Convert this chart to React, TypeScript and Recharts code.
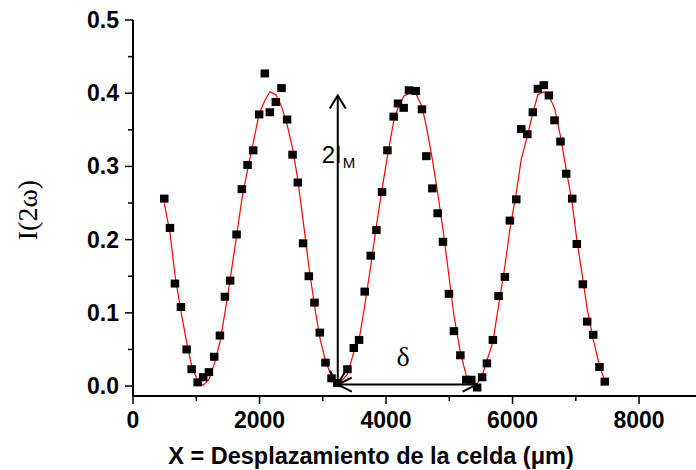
import React from 'react';
import { ComposedChart, XAxis, YAxis, Scatter, Line, ReferenceLine } from 'recharts';

// Measured points: displacement (µm) and I(2ω)
const xValues = [
  494, 584, 663, 758, 848, 927, 1022, 1110, 1200, 1284, 1374, 1453, 1536, 1637, 1721, 1811, 1900, 1994, 2084, 2163,
  2258, 2348, 2436, 2522, 2605, 2689, 2779, 2869, 2953, 3043, 3138, 3230, 3390, 3490, 3574, 3663, 3758, 3848, 3937, 4022,
  4121, 4189, 4279, 4363, 4469, 4568, 4637, 4732, 4816, 4900, 4995, 5074, 5175, 5269, 5348, 5440, 5519, 5595, 5689, 5779,
  5879, 5958, 6059, 6138, 6233, 6321, 6400, 6495, 6574, 6664, 6758, 6848, 6943, 7016, 7111, 7180, 7275, 7374, 7458,
];
const yValues = [
  0.256, 0.216, 0.140, 0.108, 0.050, 0.023, 0.005, 0.012, 0.019, 0.040, 0.069, 0.122, 0.144, 0.207, 0.269, 0.302, 0.322, 0.371, 0.427, 0.374,
  0.388, 0.407, 0.364, 0.316, 0.278, 0.195, 0.150, 0.114, 0.073, 0.032, 0.0105, 0.004, 0.023, 0.052, 0.063, 0.129, 0.178, 0.213, 0.265, 0.322,
  0.368, 0.386, 0.380, 0.404, 0.403, 0.378, 0.314, 0.270, 0.236, 0.197, 0.126, 0.075, 0.042, 0.0086, 0.0086, -0.002, 0.012, 0.031, 0.063, 0.123,
  0.149, 0.226, 0.255, 0.351, 0.344, 0.374, 0.406, 0.411, 0.397, 0.363, 0.334, 0.290, 0.256, 0.194, 0.139, 0.088, 0.070, 0.026, 0.006,
];
// Fitted curve, read at the same displacements
const fitValues = [
  0.250, 0.210, 0.152, 0.102, 0.060, 0.028, 0.007, 0.001, 0.009, 0.030, 0.060, 0.100, 0.146, 0.205, 0.255, 0.296, 0.332, 0.372, 0.390, 0.402,
  0.398, 0.382, 0.357, 0.325, 0.282, 0.226, 0.164, 0.110, 0.066, 0.034, 0.014, 0.001, 0.016, 0.046, 0.063, 0.110, 0.164, 0.219, 0.269, 0.314,
  0.362, 0.380, 0.396, 0.400, 0.400, 0.382, 0.355, 0.310, 0.264, 0.214, 0.150, 0.096, 0.046, 0.014, 0.006, 0.003, 0.014, 0.035, 0.060, 0.110,
  0.164, 0.214, 0.264, 0.310, 0.341, 0.373, 0.398, 0.402, 0.396, 0.380, 0.341, 0.296, 0.250, 0.200, 0.146, 0.105, 0.064, 0.028, 0.007,
];

const xTicks = [0, 1000, 2000, 3000, 4000, 5000, 6000, 7000, 8000];
const xTickLabels = ['0', '', '2000', '', '4000', '', '6000', '', '8000'];
const yTicks = [0, 0.05, 0.1, 0.15, 0.2, 0.25, 0.3, 0.35, 0.4, 0.45, 0.5];
const yTickLabels = ['0.0', '', '0.1', '', '0.2', '', '0.3', '', '0.4', '', '0.5'];

// Annotation positions (data units)
const arrowX = 3237;
const arrowBottom = 0.003;
const arrowTop = 0.397;
const deltaEndX = 5432;
const deltaY = 0.002;

const data = xValues.map((x, i) => ({ x, y: yValues[i], fit: fitValues[i] }));

const SANS = "'Liberation Sans', Arial, sans-serif";
const SERIF = "'Liberation Serif', 'Times New Roman', serif";

const XTick = (props: any) => {
  const { x, y, payload } = props;
  const idx = xTicks.indexOf(payload.value);
  const label = xTickLabels[idx] || '';
  const major = label !== '';
  return (
    <g>
      <line x1={x} x2={x} y1={y} y2={y + (major ? 8 : 5)} stroke="#000" strokeWidth={1.5} />
      {major && (
        <text x={x} y={y + 32} textAnchor="middle" fontFamily={SANS} fontWeight="bold" fontSize={23} fill="#000">
          {label}
        </text>
      )}
    </g>
  );
};

const YTick = (props: any) => {
  const { x, y, payload } = props;
  const idx = yTicks.findIndex((t) => Math.abs(t - payload.value) < 1e-9);
  const label = yTickLabels[idx] || '';
  const major = label !== '';
  return (
    <g>
      <line x1={x - (major ? 8 : 5)} x2={x} y1={y} y2={y} stroke="#000" strokeWidth={1.5} />
      {major && (
        <text x={x - 14} y={y + 8} textAnchor="end" fontFamily={SANS} fontWeight="bold" fontSize={23} fill="#000">
          {label}
        </text>
      )}
    </g>
  );
};

const Square = (props: any) => {
  const { cx, cy } = props;
  if (cx == null || cy == null) return null;
  return <rect x={cx - 4.25} y={cy - 4} width={8.5} height={8} fill="#000" />;
};

const VerticalArrow = (props: any) => {
  const { x1, y1, y2 } = props;
  const top = Math.min(y1, y2);
  const bottom = Math.max(y1, y2);
  const x = x1;
  return (
    <g>
      <line x1={x} x2={x} y1={top} y2={bottom} stroke="#000" strokeWidth={2} />
      <polyline points={`${x - 8},${top + 13} ${x},${top} ${x + 8},${top + 13}`} fill="none" stroke="#000" strokeWidth={2} />
      <polyline points={`${x - 8},${bottom - 13} ${x},${bottom} ${x + 8},${bottom - 13}`} fill="none" stroke="#000" strokeWidth={2} />
      <text x={x - 16} y={top + 68} fontFamily={SANS} fontSize={24} fill="#000">
        2I
      </text>
      <text x={x + 5} y={top + 73} fontFamily={SANS} fontSize={15} fill="#000">
        M
      </text>
    </g>
  );
};

const HorizontalArrow = (props: any) => {
  const { x1, y1, x2 } = props;
  const left = Math.min(x1, x2);
  const right = Math.max(x1, x2);
  const y = y1;
  return (
    <g>
      <line x1={left} x2={right} y1={y} y2={y} stroke="#000" strokeWidth={2} />
      <polyline points={`${left + 14},${y - 7} ${left},${y} ${left + 14},${y + 7}`} fill="none" stroke="#000" strokeWidth={2} />
      <polyline points={`${right - 14},${y - 7} ${right},${y} ${right - 14},${y + 7}`} fill="none" stroke="#000" strokeWidth={2} />
      <text x={(left + right) / 2 - 4} y={y - 19} textAnchor="middle" fontFamily={SERIF} fontSize={28} fill="#000">
        δ
      </text>
    </g>
  );
};

const YLabel = (props: any) => {
  const vb = props.viewBox || {};
  const cx = (vb.x || 0) + 27;
  const cy = (vb.y || 0) + (vb.height || 0) / 2 + 2;
  return (
    <text x={cx} y={cy} transform={`rotate(-90, ${cx}, ${cy})`} textAnchor="middle" dominantBaseline="central"
      fontFamily={SERIF} fontSize={28} fill="#000">
      I(2ω)
    </text>
  );
};

const XLabel = (props: any) => {
  const vb = props.viewBox || {};
  const x = (vb.x || 0) + 238;
  const y = (vb.y || 0) + 68;
  return (
    <text x={x} y={y} textAnchor="middle" fontFamily={SANS} fontWeight="bold" fontSize={23.5} fill="#000">
      X = Desplazamiento de la celda (μm)
    </text>
  );
};

export default function App() {
  return (
    <div style={{ position: 'absolute', left: 0, top: 0, width: 696, height: 470, background: '#fff' }}>
      <ComposedChart width={696} height={470} data={data} margin={{ top: 20, right: 0, bottom: 0, left: 0 }}>
        <XAxis
          dataKey="x"
          type="number"
          domain={[0, 8900]}
          allowDataOverflow
          ticks={xTicks}
          interval={0}
          tickSize={0}
          tickMargin={0}
          tickLine={false}
          tick={<XTick />}
          height={74}
          axisLine={{ stroke: '#000', strokeWidth: 2 }}
          label={<XLabel />}
        />
        <YAxis
          type="number"
          domain={[-0.0136, 0.5]}
          allowDataOverflow
          ticks={yTicks}
          interval={0}
          tickSize={0}
          tickMargin={0}
          tickLine={false}
          tick={<YTick />}
          width={133}
          axisLine={{ stroke: '#000', strokeWidth: 2 }}
          label={<YLabel />}
        />
        <Scatter dataKey="y" shape={<Square />} isAnimationActive={false} />
        <Line dataKey="fit" type="linear" stroke="#ff0000" strokeWidth={1.2} dot={false} activeDot={false} isAnimationActive={false} />
        <ReferenceLine
          segment={[{ x: arrowX, y: arrowBottom }, { x: arrowX, y: arrowTop }]}
          shape={<VerticalArrow />}
          ifOverflow="visible"
        />
        <ReferenceLine
          segment={[{ x: arrowX, y: deltaY }, { x: deltaEndX, y: deltaY }]}
          shape={<HorizontalArrow />}
          ifOverflow="visible"
        />
      </ComposedChart>
    </div>
  );
}
